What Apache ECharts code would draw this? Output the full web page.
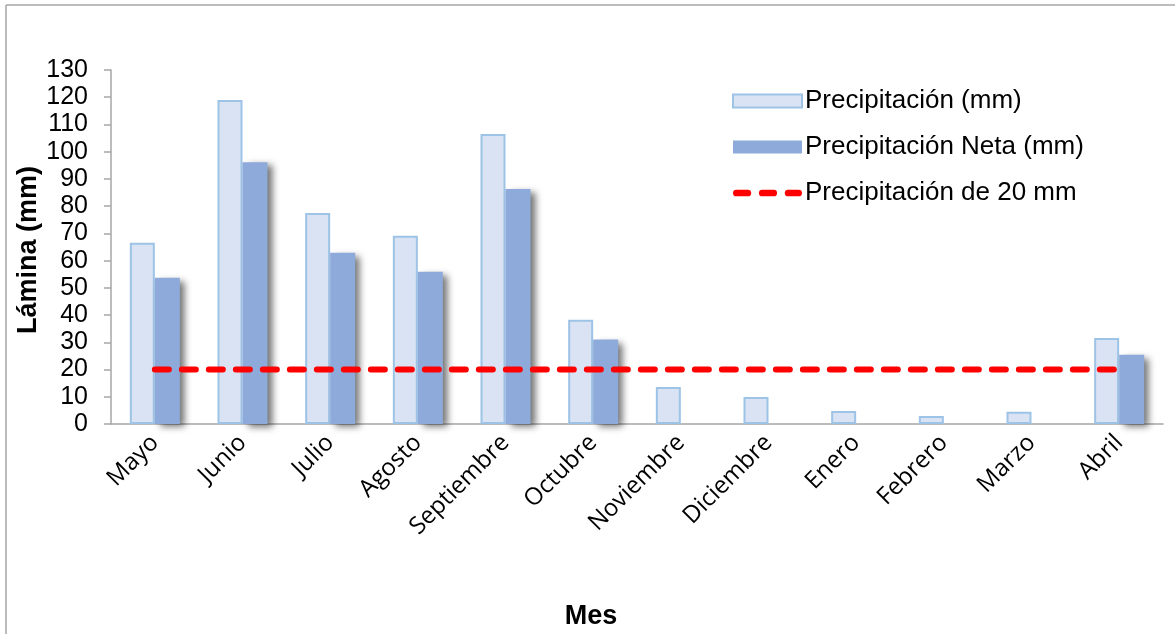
<!DOCTYPE html>
<html>
<head>
<meta charset="utf-8">
<script src="https://cdn.jsdelivr.net/npm/echarts@6/dist/echarts.min.js"></script>
<style>
html,body{margin:0;padding:0;background:#fff;}
#c{width:1175px;height:634px;}
</style>
</head>
<body>
<div id="c"></div>
<script>
const categories = ['Mayo','Junio','Julio','Agosto','Septiembre','Octubre','Noviembre','Diciembre','Enero','Febrero','Marzo','Abril'];
const precipitacion = [66.6, 119, 77.5, 69.1, 106.5, 38.3, 13.6, 9.9, 4.8, 2.9, 4.5, 31.6];
const precipitacionNeta = [53.7, 96.1, 62.9, 55.9, 86.3, 31, null, null, null, null, null, 25.4];
const umbral = [20, 20, 20, 20, 20, 20, 20, 20, 20, 20, 20, 20];
const seriesNames = ['Precipitación (mm)', 'Precipitación Neta (mm)', 'Precipitación de 20 mm'];
const yTitle = 'Lámina (mm)';
const xTitle = 'Mes';

const dashIcon = 'path://M0,0 L0.05,0 L0,0.05 Z M0,13 L0.05,13 L0,12.95 Z ' +
  'M3.5,3 H15.5 A3.5,3.5 0 0 1 15.5,10 H3.5 A3.5,3.5 0 0 1 3.5,3 Z ' +
  'M30.5,3 H42.5 A3.5,3.5 0 0 1 42.5,10 H30.5 A3.5,3.5 0 0 1 30.5,3 Z ' +
  'M57.5,3 H68.5 A3.5,3.5 0 0 1 68.5,10 H57.5 A3.5,3.5 0 0 1 57.5,3 Z M72,13 L71.95,13 L72,12.95 Z';

const chart = echarts.init(document.getElementById('c'));
chart.setOption({
  animation: false,
  backgroundColor: '#fff',
  grid: {left: 111, right: 12, top: 70, bottom: 210, containLabel: false},
  graphic: [
    {type: 'line', shape: {x1: 6, y1: 5, x2: 1175, y2: 5}, style: {stroke: '#a6a6a6', lineWidth: 1.5}},
    {type: 'line', shape: {x1: 6, y1: 5, x2: 6, y2: 634}, style: {stroke: '#a6a6a6', lineWidth: 1.5}},
    {type: 'text', x: 591, y: 617, style: {text: xTitle, font: 'bold 27px "Liberation Sans", Arial', fill: '#000', align: 'center', verticalAlign: 'middle'}},
    {type: 'text', x: 29, y: 250, rotation: Math.PI / 2, style: {text: yTitle, font: 'bold 27px "Liberation Sans", Arial', fill: '#000', align: 'center', verticalAlign: 'middle'}}
  ],
  legend: {
    orient: 'vertical',
    left: 727, top: 83,
    itemWidth: 69, itemHeight: 13, itemGap: 20,
    textStyle: {fontFamily: '"Liberation Sans", Arial', fontSize: 26, color: '#000', padding: [0,0,0,-2]},
    data: [
      {name: seriesNames[0], icon: 'rect'},
      {name: seriesNames[1], icon: 'rect'},
      {name: seriesNames[2], icon: dashIcon, itemStyle: {color: '#ff0000', borderWidth: 0}}
    ]
  },
  xAxis: {
    type: 'category',
    data: categories,
    axisLine: {lineStyle: {color: '#a6a6a6', width: 1.5}},
    axisTick: {show: false},
    axisLabel: {rotate: 45, fontFamily: '"Open Sans", "Noto Sans", sans-serif', fontSize: 24, color: '#000', margin: 15, interval: 0}
  },
  yAxis: {
    type: 'value',
    min: 0, max: 130, interval: 10,
    axisLine: {show: true, lineStyle: {color: '#a6a6a6', width: 1.5}},
    axisTick: {show: true, inside: false, length: 7, lineStyle: {color: '#a6a6a6', width: 1.5}},
    axisLabel: {fontFamily: '"Liberation Sans", Arial', fontSize: 25, color: '#000', margin: 23},
    splitLine: {show: false}
  },
  series: [
    {
      name: seriesNames[0], type: 'bar', data: precipitacion,
      barWidth: 25, barGap: '0%',
      itemStyle: {color: '#dae3f3', borderColor: '#9dc3e6', borderWidth: 2}
    },
    {
      name: seriesNames[1], type: 'bar', data: precipitacionNeta,
      barWidth: 25, barGap: '0%',
      itemStyle: {color: '#8eaadb', shadowColor: 'rgba(0,0,0,0.55)', shadowBlur: 7, shadowOffsetX: 5, shadowOffsetY: 3}
    },
    {
      name: seriesNames[2], type: 'line', data: umbral,
      symbol: 'none', z: 5,
      lineStyle: {color: '#ff0000', width: 6, type: [14, 13], cap: 'round'},
      itemStyle: {color: '#ff0000'}
    }
  ]
});
</script>
</body>
</html>
